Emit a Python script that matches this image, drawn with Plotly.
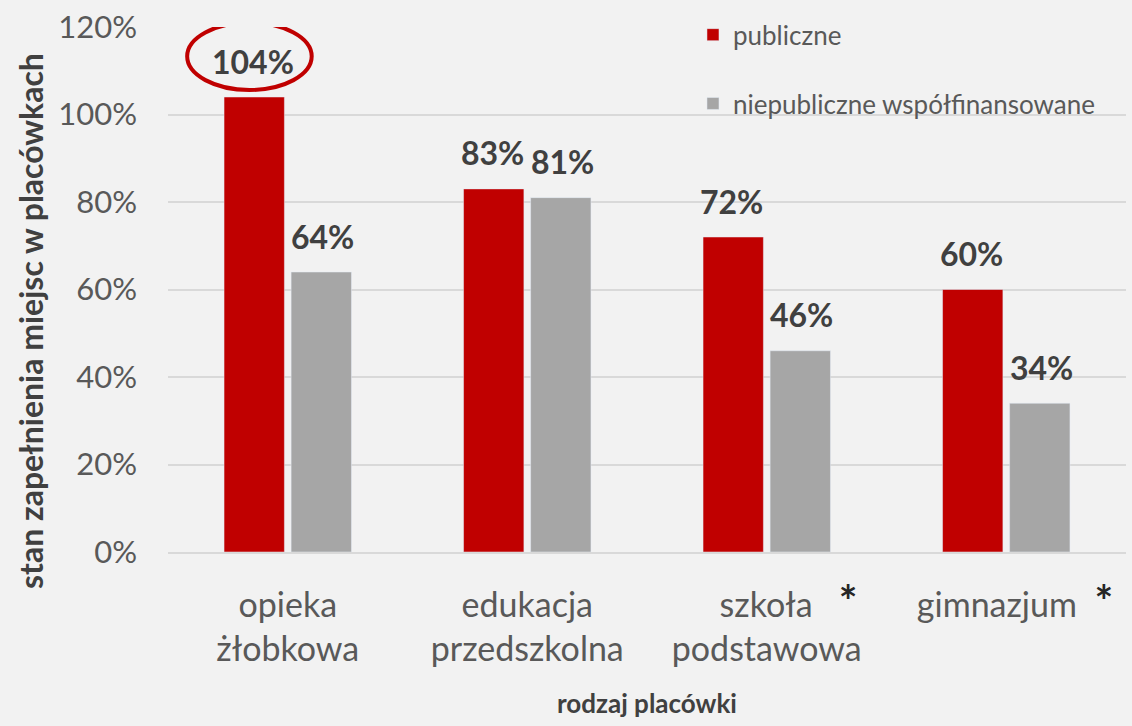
import plotly.graph_objects as go

categories = ["opieka żłobkowa", "edukacja przedszkolna", "szkoła podstawowa", "gimnazjum"]
tick_labels = ["opieka<br>żłobkowa", "edukacja<br>przedszkolna",
               "&nbsp;&nbsp;&nbsp;&nbsp;&nbsp;szkoła&nbsp;&nbsp;&nbsp;<span style='font-size:44px;color:#262626'><b>*</b></span><br>podstawowa",
               "&nbsp;&nbsp;gimnazjum&nbsp;&nbsp;<span style='font-size:44px;color:#262626'><b>*</b></span>"]
series_names = ["publiczne", "niepubliczne współfinansowane"]
publiczne = [1.04, 0.83, 0.72, 0.60]
niepubliczne = [0.64, 0.81, 0.46, 0.34]
y_ticks = [0, 0.2, 0.4, 0.6, 0.8, 1.0, 1.2]

FONT = "Lato"
RED = "#c00000"
GRAY = "#a6a6a6"

fig = go.Figure()
fig.add_bar(x=categories, y=publiczne, name=series_names[0], marker_color=RED,
            legendgroup="a", hoverinfo="skip")
fig.add_bar(x=categories, y=niepubliczne, name=series_names[1], marker_color=GRAY,
            legendgroup="b", hoverinfo="skip")

# data labels
for vals, xs in ((publiczne, -35), (niepubliczne, 35)):
    for c, v in zip(categories, vals):
        fig.add_annotation(x=c, y=v, xref="x", yref="y", text=f"{round(v*100)}%",
                           showarrow=False, xshift=xs, yshift=36, yanchor="middle",
                           font=dict(family=FONT, size=32, color="#404040", weight="bold"))

# highlight ellipse around first label
fig.add_shape(type="circle", xref="x", yref="y", x0=-0.42, x1=0.10, y0=1.056, y1=1.21,
              line=dict(color=RED, width=4))

fig.add_annotation(x=-0.144, y=0.44, xref="paper", yref="paper", text="stan zapełnienia miejsc w placówkach",
                   textangle=-90, showarrow=False, xanchor="center", yanchor="middle",
                   font=dict(family=FONT, size=32, color="#404040", weight="bold"))

fig.update_layout(
    width=1132, height=726,
    paper_bgcolor="#f2f2f2", plot_bgcolor="#f2f2f2",
    margin=dict(l=168, r=6, t=27, b=174),
    barmode="group", bargap=0.44, bargroupgap=0.1,
    showlegend=True,
    legend=dict(x=0.548, y=1.03, xanchor="left", yanchor="top", tracegroupgap=32,
                font=dict(family=FONT, size=26, color="#595959"), bgcolor="rgba(0,0,0,0)"),
    xaxis=dict(tickvals=categories, ticktext=tick_labels, showline=True, linecolor="#d9d9d9", linewidth=2,
               tickfont=dict(family=FONT, size=34, color="#595959"), ticks="", ticklabelstandoff=22,
               title=dict(text="rodzaj placówki", standoff=28,
                          font=dict(family=FONT, size=26, color="#404040", weight="bold"))),
    yaxis=dict(range=[0, 1.2], tickvals=y_ticks, tickformat=".0%", showgrid=True,
               gridcolor="#d9d9d9", gridwidth=1.5, zeroline=False, ticks="",
               tickfont=dict(family=FONT, size=31, color="#595959"), ticklabelstandoff=30),
)

fig.write_html("out.html", config={"displayModeBar": False},
               post_script="document.body.style.margin='0';document.body.style.padding='0';")
